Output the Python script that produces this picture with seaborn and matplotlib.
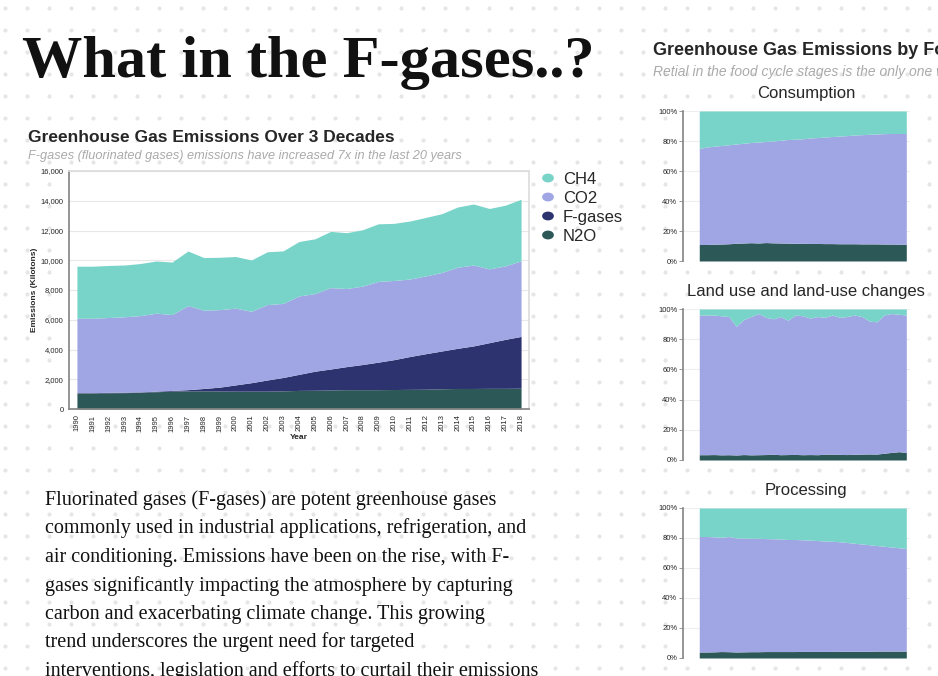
import numpy as np
import seaborn as sns
from matplotlib import pyplot as plt

years = list(range(1990, 2019))
total = [9600, 9600, 9650, 9680, 9780, 9950, 9880, 10620, 10180, 10200, 10250, 10020, 10570, 10630,
         11260, 11440, 11940, 11850, 12050, 12450, 12480, 12640, 12880, 13130, 13580, 13780, 13480, 13700, 14100]
co2_top = [6100, 6100, 6150, 6200, 6280, 6440, 6350, 6950, 6640, 6680, 6780, 6570, 7020, 7100, 7600,
           7760, 8160, 8100, 8260, 8580, 8640, 8740, 8950, 9180, 9530, 9680, 9420, 9620, 9960]
fgas_top = [1100, 1100, 1120, 1130, 1150, 1200, 1250, 1300, 1380, 1470, 1620, 1770, 1950, 2120, 2330,
            2540, 2690, 2850, 2990, 3150, 3320, 3530, 3720, 3900, 4080, 4240, 4460, 4680, 4880]
n2o = [1080, 1080, 1090, 1100, 1120, 1160, 1200, 1220, 1220, 1210, 1200, 1200, 1200, 1220, 1250,
       1260, 1280, 1300, 1300, 1300, 1310, 1320, 1330, 1360, 1380, 1380, 1390, 1390, 1400]
fgas = [a - b for a, b in zip(fgas_top, n2o)]
co2 = [a - b for a, b in zip(co2_top, fgas_top)]
ch4 = [a - b for a, b in zip(total, co2_top)]

# share (%) by stage: N2O, CO2 top (cumulative)
cons_n2o = [11, 11, 11.2, 11.3, 11.5, 11.8, 12, 12.2, 12, 12.3, 12.1, 12, 11.9, 11.8, 11.8, 11.7, 11.7,
            11.6, 11.6, 11.5, 11.5, 11.5, 11.4, 11.4, 11.4, 11.3, 11.3, 11.2, 11.2]
cons_top = [75, 76, 76.5, 77, 77.5, 78, 78.5, 79, 79.3, 79.7, 80, 80.5, 81, 81.2, 81.5, 82, 82.3, 82.6,
            83, 83.3, 83.6, 84, 84.2, 84.5, 84.7, 84.9, 85, 85, 85]
land_n2o = [3.5, 3.5, 3.6, 3.4, 3.5, 3.3, 3.6, 3.4, 3.5, 3.6, 3.8, 3.5, 3.6, 3.7, 3.5, 3.6, 3.5, 3.8,
            3.9, 3.7, 3.6, 3.8, 3.9, 4.0, 3.9, 4.5, 5.0, 5.5, 5.0]
land_top = [96, 96, 96, 95.5, 95, 88.5, 93, 95, 97, 94.5, 93.5, 95, 92.5, 96, 95.5, 94, 95, 94.5,
            96, 94.5, 95, 96, 95, 92, 91.5, 96, 97, 96.5, 96]
proc_n2o = [4, 4, 4.1, 4.3, 4.2, 4.0, 4.1, 4.2, 4.2, 4.3, 4.3, 4.3, 4.3, 4.3, 4.4, 4.4, 4.4, 4.4,
            4.4, 4.5, 4.5, 4.5, 4.5, 4.5, 4.6, 4.6, 4.6, 4.6, 4.6]
proc_top = [81, 81, 80.8, 80.5, 81, 80, 80, 79.8, 79.8, 79.6, 79.5, 79.3, 79, 79, 78.8, 78.6, 78.3,
            78, 77.8, 77.5, 77, 76.5, 76, 75.5, 75, 74.5, 74, 73.5, 73]

names = ['CH4', 'CO2', 'F-gases', 'N2O']
colors = {'CH4': '#78d3c9', 'CO2': '#a0a6e3', 'F-gases': '#2d336f', 'N2O': '#2c5858'}

sns.set_theme(style='white')
plt.rcParams['font.family'] = ['Liberation Sans', 'DejaVu Sans']

W, H = 938, 676
fig = plt.figure(figsize=(W / 100, H / 100), dpi=100)


def box(l, t, r, b):
    return [l / W, 1 - b / H, (r - l) / W, (b - t) / H]


# dotted page background
bg = fig.add_axes([0, 0, 1, 1])
gx, gy = np.meshgrid(np.arange(5, W, 22), np.arange(8, H, 22))
bg.scatter(gx.ravel(), gy.ravel(), s=9, color='#e6e6e6', linewidths=0)
bg.set_xlim(0, W)
bg.set_ylim(H, 0)
bg.axis('off')

fig.text(22 / W, 1 - 77 / H, 'What in the F-gases..?', family=['Liberation Serif'], weight='bold',
         fontsize=43.5, color='#111111')

para = ["Fluorinated gases (F-gases) are potent greenhouse gases",
        "commonly used in industrial applications, refrigeration, and",
        "air conditioning. Emissions have been on the rise, with F-",
        "gases significantly impacting the atmosphere by capturing",
        "carbon and exacerbating climate change. This growing",
        "trend underscores the urgent need for targeted",
        "interventions, legislation and efforts to curtail their emissions"]
for i, line in enumerate(para):
    fig.text(45 / W, 1 - (505 + i * 28.5) / H, line, family=['Liberation Serif'], fontsize=14.5,
             color='#111111')

# main chart
fig.text(28 / W, 1 - 142 / H, 'Greenhouse Gas Emissions Over 3 Decades', fontsize=12.5, weight='bold')
fig.text(28 / W, 1 - 159 / H, 'F-gases (fluorinated gases) emissions have increased 7x in the last 20 years',
         fontsize=9.2, style='italic', color='#aaaaaa')
ax = fig.add_axes(box(69, 171, 529, 409))
ax.stackplot(years, n2o, fgas, co2, ch4,
             colors=[colors['N2O'], colors['F-gases'], colors['CO2'], colors['CH4']], linewidth=0)
ax.set_xlim(1989.5, 2018.5)
ax.set_ylim(0, 16000)
ax.set_yticks(range(0, 16001, 2000))
ax.set_yticklabels([f'{v:,}' for v in range(0, 16001, 2000)], fontsize=5.5)
ax.set_xticks(years)
ax.set_xticklabels(years, rotation=90, fontsize=5.5)
ax.set_xlabel('Year', fontsize=6, weight='bold', labelpad=2)
ax.set_ylabel('Emissions (Kilotons)', fontsize=6, weight='bold', labelpad=2)
ax.grid(axis='y', color='#e8e8e8', lw=0.8)
ax.set_axisbelow(True)
for s in ax.spines.values():
    s.set_color('#dddddd')
ax.spines['left'].set_color('#888888')
ax.spines['bottom'].set_color('#888888')
ax.tick_params(length=3, width=0.6, color='#888888', pad=1)

for j, n in enumerate(names):
    y = 178 + j * 19
    fig.add_artist(plt.Circle(((548) / W, 1 - y / H), 0.0055, color=colors[n], transform=fig.transFigure))
    fig.text(563 / W, 1 - (y + 6) / H, n, fontsize=12)

# right column
fig.text(653 / W, 1 - 55 / H, 'Greenhouse Gas Emissions by Food Cycle Stage', fontsize=13, weight='bold')
fig.text(653 / W, 1 - 76 / H, 'Retial in the food cycle stages is the only one with increasing emissions',
         fontsize=10, style='italic', color='#aaaaaa')
stages = [('Consumption', cons_n2o, cons_top, 111, 261),
          ('Land use and land-use changes', land_n2o, land_top, 309, 460),
          ('Processing', proc_n2o, proc_top, 508, 658)]
for title, low, top, t, b in stages:
    a = fig.add_axes(box(683, t, 910, b))
    mid = [p - q for p, q in zip(top, low)]
    rest = [100 - p for p in top]
    a.stackplot(years, low, mid, rest, colors=[colors['N2O'], colors['CO2'], colors['CH4']], linewidth=0)
    a.set_xlim(1987.8, 2018.5)
    a.set_ylim(0, 100)
    a.set_yticks(range(0, 101, 20))
    a.set_yticklabels([f'{v}%' for v in range(0, 101, 20)], fontsize=5.5)
    a.set_xticks([])
    a.grid(axis='y', color='#eeeeee', lw=0.8)
    for s in a.spines.values():
        s.set_visible(False)
    a.spines['left'].set_visible(True)
    a.spines['left'].set_color('#888888')
    a.tick_params(axis='y', length=3, width=0.6, color='#888888', pad=1, left=True)
    fig.text(806 / W, 1 - (t - 13) / H, title, fontsize=12, ha='center')

fig.savefig('out.png', dpi=100)
